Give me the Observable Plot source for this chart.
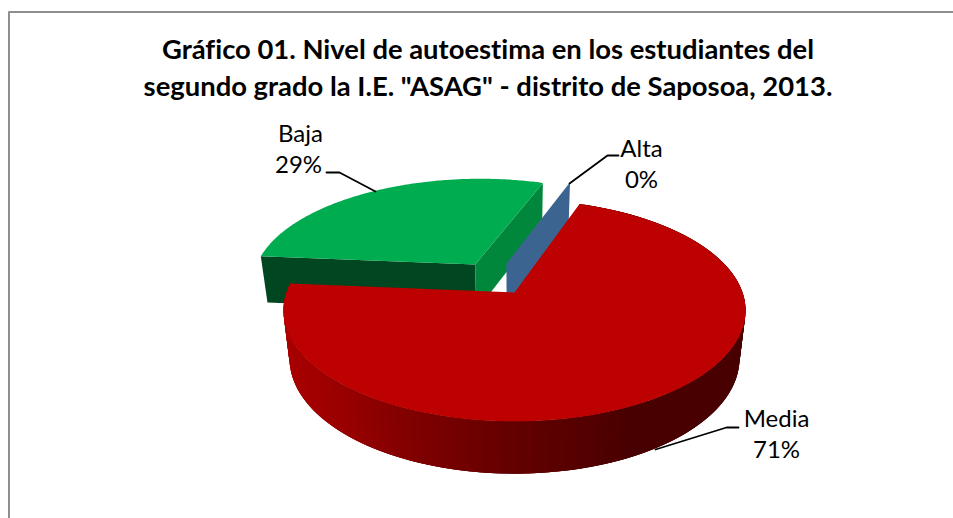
<!DOCTYPE html>
<html><head><meta charset="utf-8">
<script src="https://cdn.jsdelivr.net/npm/d3@7"></script>
<script src="https://cdn.jsdelivr.net/npm/@observablehq/plot@0.6"></script>
<style>html,body{margin:0;padding:0;background:#fff}svg{display:block}</style>
</head><body><div id="c"></div>
<script>
const categories = ["Alta", "Media", "Baja"];
const percents = [0, 71, 29];
const percentLabels = ["0%", "71%", "29%"];
const titleLines = ["Gráfico 01. Nivel de autoestima en los estudiantes del",
  "segundo grado la I.E. \"ASAG\" - distrito de Saposoa, 2013."];

// 3-D view of the pie
const view = {cx: 514, cy: 292, a: 228, b: 108, k: 0.162, aLow: 222, bLow: 112, cyLow: 339.5};
const explode = {Alta: [-0.037, 0.279], Media: [0, 0], Baja: [-0.18, 0.27]};
const rad = d => d * Math.PI / 180;
const slices = d3.pie().sort(null).startAngle(rad(19.2)).endAngle(rad(379.2))(percents)
  .map((s, i) => ({...s, name: categories[i]}));
const [alta, media, baja] = slices;

const top3 = ([u, v]) => {
  const w = 1 + view.k * v;
  return {x: view.cx + view.a * u / w, y: view.cy - view.b * v / w};
};
const low3 = ([u, v]) => {
  const w = 1 + view.k * v;
  return {x: view.cx + view.aLow * u / w, y: view.cyLow - view.bLow * v / w};
};
const rim = (name, t) => [explode[name][0] + Math.sin(t), explode[name][1] + Math.cos(t)];
const arcPts = (s, n = 160) => d3.range(n + 1).map(i => rim(s.name, s.startAngle + (s.endAngle - s.startAngle) * i / n));

const topFace = s => [explode[s.name], ...arcPts(s)].map(top3);
const radialWall = (name, t) => [top3(explode[name]), top3(rim(name, t)), low3(rim(name, t)), low3(explode[name])];

const wallColor = d3.scaleLinear()
  .domain([285, 340, 400, 514, 640, 745])
  .range(["#a80000", "#9a0000", "#840000", "#640000", "#480000", "#480000"]);
// Each strip overlaps the next one, so no seams appear between them.
const wallStrips = [];
const N = 220;
const span = media.endAngle - media.startAngle;
for (let i = 0; i < N; i++) {
  const p0 = rim("Media", media.startAngle + span * i / N);
  const p1 = rim("Media", media.startAngle + span * Math.min(N, i + 3) / N);
  const col = wallColor(top3(p0).x);
  [top3(p0), top3(p1), low3(p1), low3(p0)].forEach(p => wallStrips.push({...p, i, col}));
}

const titleRows = titleLines.map((text, i) => ({text, row: i}));
const labelAt = {Baja: {x: 300, y: 134}, Alta: {x: 641, y: 149}, Media: {x: 776, y: 419}};
const labelRows = categories.flatMap((c, i) => [
  {text: c, x: labelAt[c].x, y: labelAt[c].y},
  {text: percentLabels[i], x: labelAt[c].x - (c === "Baja" ? 2 : 0), y: labelAt[c].y + 31}
]);
const leaders = [
  [{x: 326, y: 172}, {x: 339, y: 172}, {x: 375, y: 191}],
  [{x: 569, y: 183}, {x: 607, y: 155}, {x: 618, y: 155}],
  [{x: 655, y: 449}, {x: 726, y: 427}, {x: 738, y: 427}]
].flatMap((l, z) => l.map(p => ({...p, z})));
const frame = [{x: 8.5, y: 518}, {x: 8.5, y: 11.5}, {x: 953, y: 11.5}];

const poly = (pts, fill) => Plot.line(pts, {x: "x", y: "y", fill, stroke: "none", curve: "linear"});
const font = "Lato, Carlito, Calibri, sans-serif";

const chart = Plot.plot({
  width: 953, height: 518, margin: 0,
  style: {background: "#fff", fontVariantLigatures: "none"},
  x: {domain: [0, 953], range: [0, 953], axis: null},
  y: {domain: [0, 518], range: [0, 518], axis: null},
  color: {type: "identity"},
  marks: [
    Plot.line(frame, {x: "x", y: "y", stroke: "#8e8e8e", strokeWidth: 2}),
    poly(radialWall("Baja", baja.startAngle), "#004620"),
    poly(radialWall("Baja", baja.endAngle), "#00873c"),
    poly(topFace(baja), "#00ac50"),
    poly(radialWall("Alta", alta.startAngle), "#3b6491"),
    Plot.line(wallStrips, {x: "x", y: "y", z: "i", fill: "col", stroke: "none", curve: "linear"}),
    poly(topFace(media), "#bd0000"),
    Plot.line(leaders, {x: "x", y: "y", z: "z", stroke: "#000", strokeWidth: 1.8, curve: "linear"}),
    Plot.text(titleRows, {x: () => 487.5, y: d => 50 + d.row * 37, text: "text", fontSize: 27.4, fontWeight: 700, fontFamily: font, fill: "#000"}),
    Plot.text(labelRows, {x: "x", y: "y", text: "text", fontSize: 24, fontFamily: font, fill: "#000"})
  ]
});
document.getElementById("c").append(chart);
</script>
</body></html>
